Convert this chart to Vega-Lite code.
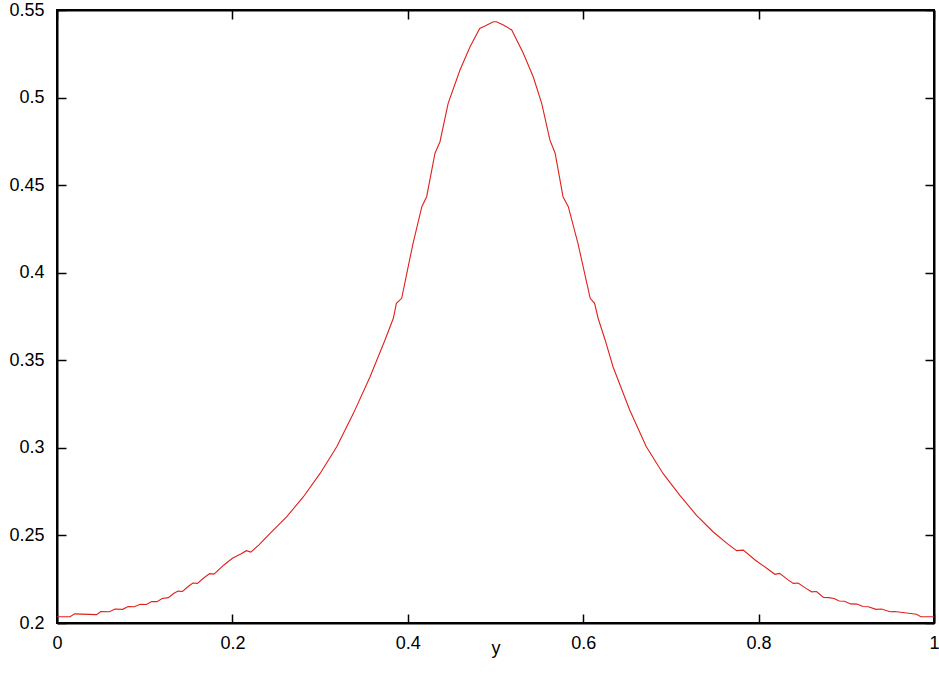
{
  "$schema": "https://vega.github.io/schema/vega-lite/v6.json",
  "width": 877,
  "height": 613,
  "autosize": {"type": "none"},
  "padding": {"left": 57, "top": 10, "right": 5, "bottom": 58},
  "background": "white",
  "config": {
    "view": {"stroke": "black", "strokeWidth": 2},
    "axis": {
      "grid": false,
      "domainColor": "black",
      "domainWidth": 2,
      "tickColor": "black",
      "tickWidth": 1.5,
      "tickSize": -9,
      "labelFont": "Liberation Sans",
      "labelFontSize": 18,
      "labelColor": "black",
      "titleFont": "Liberation Sans",
      "titleFontSize": 18,
      "titleColor": "black",
      "titleFontWeight": "normal"
    }
  },
  "data": {
    "values": [
      {"x": 0.000, "v": 0.2036}, {"x": 0.015, "v": 0.2036}, {"x": 0.020, "v": 0.2052},
      {"x": 0.045, "v": 0.2048}, {"x": 0.050, "v": 0.2066}, {"x": 0.060, "v": 0.2064},
      {"x": 0.066, "v": 0.2080}, {"x": 0.075, "v": 0.2078}, {"x": 0.081, "v": 0.2094},
      {"x": 0.088, "v": 0.2093}, {"x": 0.095, "v": 0.2107}, {"x": 0.102, "v": 0.2106},
      {"x": 0.108, "v": 0.2123}, {"x": 0.114, "v": 0.2122}, {"x": 0.120, "v": 0.2140},
      {"x": 0.127, "v": 0.2145}, {"x": 0.133, "v": 0.2168}, {"x": 0.138, "v": 0.2182},
      {"x": 0.143, "v": 0.2180}, {"x": 0.150, "v": 0.2210}, {"x": 0.155, "v": 0.2228},
      {"x": 0.160, "v": 0.2226}, {"x": 0.168, "v": 0.2260}, {"x": 0.174, "v": 0.2282},
      {"x": 0.179, "v": 0.2279}, {"x": 0.190, "v": 0.2330}, {"x": 0.200, "v": 0.2370},
      {"x": 0.210, "v": 0.2395}, {"x": 0.216, "v": 0.2413}, {"x": 0.221, "v": 0.2405},
      {"x": 0.230, "v": 0.2445}, {"x": 0.243, "v": 0.2512}, {"x": 0.262, "v": 0.2607},
      {"x": 0.281, "v": 0.2721}, {"x": 0.300, "v": 0.2854}, {"x": 0.319, "v": 0.3006},
      {"x": 0.338, "v": 0.3197}, {"x": 0.357, "v": 0.3406}, {"x": 0.374, "v": 0.3616},
      {"x": 0.3835, "v": 0.3740}, {"x": 0.387, "v": 0.3825}, {"x": 0.393, "v": 0.3854},
      {"x": 0.400, "v": 0.4023}, {"x": 0.406, "v": 0.4168}, {"x": 0.416, "v": 0.4377},
      {"x": 0.4215, "v": 0.4434}, {"x": 0.431, "v": 0.4682}, {"x": 0.4367, "v": 0.4748},
      {"x": 0.446, "v": 0.4967}, {"x": 0.4595, "v": 0.5157}, {"x": 0.471, "v": 0.5290},
      {"x": 0.482, "v": 0.5395}, {"x": 0.488, "v": 0.5409}, {"x": 0.4975, "v": 0.5433},
      {"x": 0.501, "v": 0.5433}, {"x": 0.509, "v": 0.5414}, {"x": 0.5185, "v": 0.5386},
      {"x": 0.5317, "v": 0.5253}, {"x": 0.543, "v": 0.5119}, {"x": 0.5527, "v": 0.4967},
      {"x": 0.562, "v": 0.4758}, {"x": 0.568, "v": 0.4682}, {"x": 0.577, "v": 0.4434},
      {"x": 0.583, "v": 0.4377}, {"x": 0.594, "v": 0.4168}, {"x": 0.608, "v": 0.3854},
      {"x": 0.613, "v": 0.3825}, {"x": 0.617, "v": 0.3740}, {"x": 0.625, "v": 0.3616},
      {"x": 0.634, "v": 0.3463}, {"x": 0.653, "v": 0.3216}, {"x": 0.672, "v": 0.3006},
      {"x": 0.691, "v": 0.2854}, {"x": 0.710, "v": 0.2730}, {"x": 0.729, "v": 0.2616},
      {"x": 0.748, "v": 0.2521}, {"x": 0.765, "v": 0.2450}, {"x": 0.775, "v": 0.2413},
      {"x": 0.7826, "v": 0.2416}, {"x": 0.796, "v": 0.2360}, {"x": 0.810, "v": 0.2310},
      {"x": 0.8187, "v": 0.2278}, {"x": 0.824, "v": 0.2283}, {"x": 0.834, "v": 0.2245},
      {"x": 0.8396, "v": 0.2226}, {"x": 0.845, "v": 0.2228}, {"x": 0.855, "v": 0.2195},
      {"x": 0.8605, "v": 0.2178}, {"x": 0.866, "v": 0.2180}, {"x": 0.874, "v": 0.2146},
      {"x": 0.880, "v": 0.2145}, {"x": 0.886, "v": 0.2140}, {"x": 0.892, "v": 0.2126},
      {"x": 0.898, "v": 0.2124}, {"x": 0.905, "v": 0.2109}, {"x": 0.912, "v": 0.2108},
      {"x": 0.919, "v": 0.2094}, {"x": 0.925, "v": 0.2093}, {"x": 0.934, "v": 0.2078},
      {"x": 0.940, "v": 0.2080}, {"x": 0.950, "v": 0.2064}, {"x": 0.955, "v": 0.2066},
      {"x": 0.980, "v": 0.2050}, {"x": 0.985, "v": 0.2036}, {"x": 1.000, "v": 0.2036}
    ]
  },
  "layer": [
    {
      "mark": {"type": "line", "color": "#e0201c", "strokeWidth": 1.1, "clip": true},
      "encoding": {
        "x": {
          "field": "x", "type": "quantitative",
          "scale": {"domain": [0, 1], "nice": false, "zero": false},
          "axis": {"values": [0, 0.2, 0.4, 0.6, 0.8, 1], "format": "~g", "title": "y",
                   "labelPadding": 20, "titleY": 30, "titleBaseline": "alphabetic", "labelFlush": false}
        },
        "y": {
          "field": "v", "type": "quantitative",
          "scale": {"domain": [0.2, 0.55], "nice": false, "zero": false},
          "axis": {"values": [0.2, 0.25, 0.3, 0.35, 0.4, 0.45, 0.5, 0.55], "format": "~g", "title": null,
                   "labelPadding": 22, "labelFlush": false}
        }
      }
    },
    {
      "mark": {"type": "line", "opacity": 0},
      "encoding": {
        "x": {
          "field": "x", "type": "quantitative",
          "scale": {"domain": [0, 1], "nice": false, "zero": false},
          "axis": {"orient": "top", "values": [0, 0.2, 0.4, 0.6, 0.8, 1], "labels": false, "title": null}
        },
        "y": {
          "field": "v", "type": "quantitative",
          "scale": {"domain": [0.2, 0.55], "nice": false, "zero": false},
          "axis": {"orient": "right", "values": [0.2, 0.25, 0.3, 0.35, 0.4, 0.45, 0.5, 0.55], "labels": false, "title": null}
        }
      }
    }
  ],
  "resolve": {"axis": {"x": "independent", "y": "independent"}}
}
